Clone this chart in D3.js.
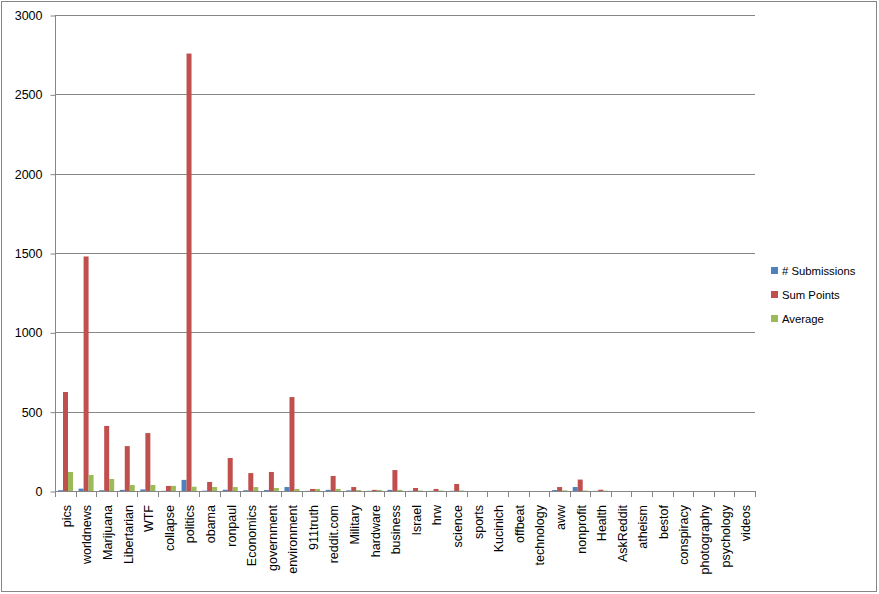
<!DOCTYPE html>
<html><head><meta charset="utf-8">
<script src="https://cdn.jsdelivr.net/npm/d3@7"></script>
<style>body{margin:0;background:#fff}svg{display:block}text{font-family:"Liberation Sans",Arial,sans-serif;fill:#000}</style>
</head><body>
<script>
const categories = ["pics","worldnews","Marijuana","Libertarian","WTF","collapse","politics","obama","ronpaul","Economics","government","environment","911truth","reddit.com","Military","hardware","business","Israel","hrw","science","sports","Kucinich","offbeat","technology","aww","nonprofit","Health","AskReddit","atheism","bestof","conspiracy","photography","psychology","videos"];
const seriesNames = ["# Submissions","Sum Points","Average"];
const submissions = [5,15,5,7,10,1,70,2,8,5,6,25,1,7,4,1,7,1,1,1,0,0,0,0,6,25,1,0,0,0,0,0,0,0];
const sumPoints   = [624,1478,410,283,365,32,2757,57,208,113,120,592,13,95,25,7,132,19,13,44,0,0,0,0,25,72,8,0,0,0,0,0,0,0];
const average     = [120,101,76,38,38,32,27,25,25,25,19,13,13,13,6,7,7,3,3,3,0,0,0,0,4,3,2,0,0,0,0,0,0,0];
const yTicks = [0,500,1000,1500,2000,2500,3000];
const colors = ["#4F81BD","#C0504D","#9BBB59"];

(function(){
const W = 879, H = 594;
const svg = d3.select("body").append("svg").attr("width", W).attr("height", H);
svg.append("rect").attr("x",1.5).attr("y",1.5).attr("width",W-4).attr("height",H-4)
  .attr("fill","#fff").attr("stroke","#868686");

const pl = 55, pr = 755, pt = 15, pb = 491;
const y = d3.scaleLinear().domain([0,3000]).range([pb, pt]);
const x0 = d3.scaleBand().domain(categories).range([pl, pr]).padding(0);
const bw = x0.bandwidth();
const x1 = d3.scaleBand().domain(seriesNames).range([bw*0.146, bw*0.874]).padding(0);

svg.append("g").selectAll("line").data(yTicks.filter(d=>d>0)).join("line")
  .attr("x1", pl).attr("x2", pr).attr("y1", d=>Math.round(y(d))+0.5).attr("y2", d=>Math.round(y(d))+0.5)
  .attr("stroke","#868686").attr("stroke-width",1);

const yAxis = d3.axisLeft(y).tickValues(yTicks).tickSize(5).tickPadding(8).tickFormat(d3.format("d"));
const gy = svg.append("g").attr("transform",`translate(${pl+0.5},0.5)`).call(yAxis);
gy.select(".domain").attr("stroke","#868686").attr("d",`M0,${pt}V${pb}`);
gy.selectAll(".tick line").attr("stroke","#868686");
gy.selectAll(".tick text").style("font-size","12.5px").attr("fill","#000");

const data = categories.map((c,i)=>({c, vals:[submissions[i], sumPoints[i], average[i]]}));
const groups = svg.append("g").selectAll("g").data(data).join("g")
  .attr("transform", d=>`translate(${x0(d.c)},0)`);
groups.selectAll("rect").data(d=>d.vals.map((v,k)=>({v,k}))).join("rect")
  .attr("x", d=>x1(seriesNames[d.k])).attr("width", x1.bandwidth())
  .attr("y", d=>y(d.v)).attr("height", d=>pb - y(d.v))
  .attr("fill", d=>colors[d.k]);

const gx = svg.append("g");
gx.append("line").attr("x1",pl).attr("x2",pr).attr("y1",pb+0.5).attr("y2",pb+0.5).attr("stroke","#868686");
const bounds = categories.map(c=>x0(c)).concat([pr]);
gx.selectAll("line.tk").data(bounds).join("line").attr("class","tk")
  .attr("x1",d=>Math.round(d)+0.5).attr("x2",d=>Math.round(d)+0.5).attr("y1",pb).attr("y2",pb+6)
  .attr("stroke","#868686");
gx.selectAll("text").data(categories).join("text")
  .attr("transform", d=>`translate(${x0(d)+bw/2+5.5},${505}) rotate(-90)`)
  .attr("text-anchor","end").style("font-size","12.5px").text(d=>d);

const lg = svg.append("g").attr("transform","translate(771,0)");
const ly = [271,295,319];
seriesNames.forEach((s,k)=>{
  lg.append("rect").attr("x",0).attr("y",ly[k]-4).attr("width",7).attr("height",7).attr("fill",colors[k]);
  lg.append("text").attr("x",11).attr("y",ly[k]+4).style("font-size","11.3px").text(s);
});
})();
</script>
</body></html>
